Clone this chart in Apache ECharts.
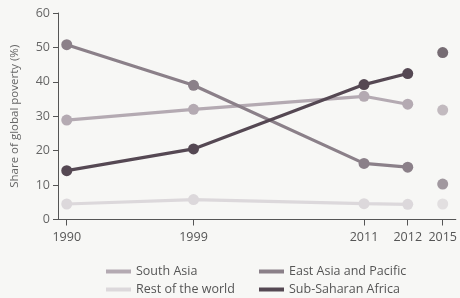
<!DOCTYPE html>
<html>
<head>
<meta charset="utf-8">
<script src="https://cdn.jsdelivr.net/npm/echarts@6/dist/echarts.min.js"></script>
<style>
  html, body { margin: 0; padding: 0; background: #f7f7f5; }
  #chart { width: 460px; height: 298px; }
</style>
</head>
<body>
<div id="chart"></div>
<script>
// data
var years = ['1990', '1999', '2011', '2012', '2015'];
var southAsia = [28.9, 32.0, 35.8, 33.5, 31.8];
var eastAsia = [50.8, 39.0, 16.3, 15.2, 10.3];
var restOfWorld = [4.5, 5.8, 4.6, 4.4, 4.5];
var subSaharan = [14.2, 20.5, 39.2, 42.4, 48.5];

// the original x axis is not to scale, so the years sit on fixed slots
var slotCount = 92;
var yearSlot = [2, 31, 70, 80, 88];

var categories = [];
for (var i = 0; i < slotCount; i++) {
  var k = yearSlot.indexOf(i);
  categories.push(k >= 0 ? years[k] : '');
}
function isYear(index) {
  return yearSlot.indexOf(index) >= 0;
}

// 1990-2012 joined by a line, 2015 drawn as a lone dot
function linePart(values) {
  var out = [];
  for (var i = 0; i < 4; i++) out.push([yearSlot[i], values[i]]);
  return out;
}
function dotPart(values) {
  return [[yearSlot[4], values[4]]];
}

var colors = {
  'South Asia': '#b4aab2',
  'East Asia and Pacific': '#8b8089',
  'Rest of the world': '#dcd8db',
  'Sub-Saharan Africa': '#554853'
};

function makeSeries(name, values, z) {
  return [{
    name: name,
    type: 'line',
    data: linePart(values),
    z: z,
    symbol: 'circle',
    symbolSize: 11,
    lineStyle: { width: 3.2, color: colors[name] },
    itemStyle: { color: colors[name] },
    emphasis: { disabled: true },
    animation: false
  }, {
    name: name,
    type: 'scatter',
    data: dotPart(values),
    z: z,
    symbolSize: 11,
    itemStyle: { color: colors[name] },
    animation: false
  }];
}

var chart = echarts.init(document.getElementById('chart'), null, { renderer: 'canvas' });

var legendText = { color: '#555', fontSize: 12.5, fontFamily: 'Open Sans' };

var option = {
  backgroundColor: '#f7f7f5',
  textStyle: { fontFamily: 'Open Sans' },
  grid: { left: 58, right: 3.6, top: 13, bottom: 78.5, containLabel: false },
  legend: [{
    orient: 'vertical',
    left: 106,
    top: 265,
    height: 40,
    padding: 0,
    itemWidth: 25,
    itemHeight: 4,
    itemGap: 5,
    icon: 'rect',
    textStyle: legendText,
    data: ['South Asia', 'Rest of the world']
  }, {
    orient: 'vertical',
    left: 259,
    top: 265,
    height: 40,
    padding: 0,
    itemWidth: 25,
    itemHeight: 4,
    itemGap: 5,
    icon: 'rect',
    textStyle: legendText,
    data: ['East Asia and Pacific', 'Sub-Saharan Africa']
  }],
  xAxis: {
    type: 'category',
    data: categories,
    boundaryGap: false,
    axisLine: { lineStyle: { color: '#555', width: 1 } },
    axisTick: {
      alignWithLabel: true,
      length: 6,
      interval: function (index) { return isYear(index); },
      lineStyle: { color: '#555' }
    },
    axisLabel: {
      interval: function (index) { return isYear(index); },
      color: '#555',
      fontSize: 12.5,
      margin: 11
    },
    splitLine: { show: false }
  },
  yAxis: {
    type: 'value',
    min: 0,
    max: 60,
    interval: 10,
    name: 'Share of global poverty (%)',
    nameLocation: 'middle',
    nameGap: 37,
    nameTextStyle: { color: '#666', fontSize: 11.5 },
    axisLine: { show: true, lineStyle: { color: '#555', width: 1 } },
    axisTick: { show: true, length: 5, lineStyle: { color: '#555' } },
    axisLabel: { color: '#666', fontSize: 12.5, margin: 8 },
    splitLine: { show: false }
  },
  series: [].concat(
    makeSeries('Rest of the world', restOfWorld, 2),
    makeSeries('South Asia', southAsia, 3),
    makeSeries('East Asia and Pacific', eastAsia, 4),
    makeSeries('Sub-Saharan Africa', subSaharan, 5)
  )
};

chart.setOption(option);
</script>
</body>
</html>
